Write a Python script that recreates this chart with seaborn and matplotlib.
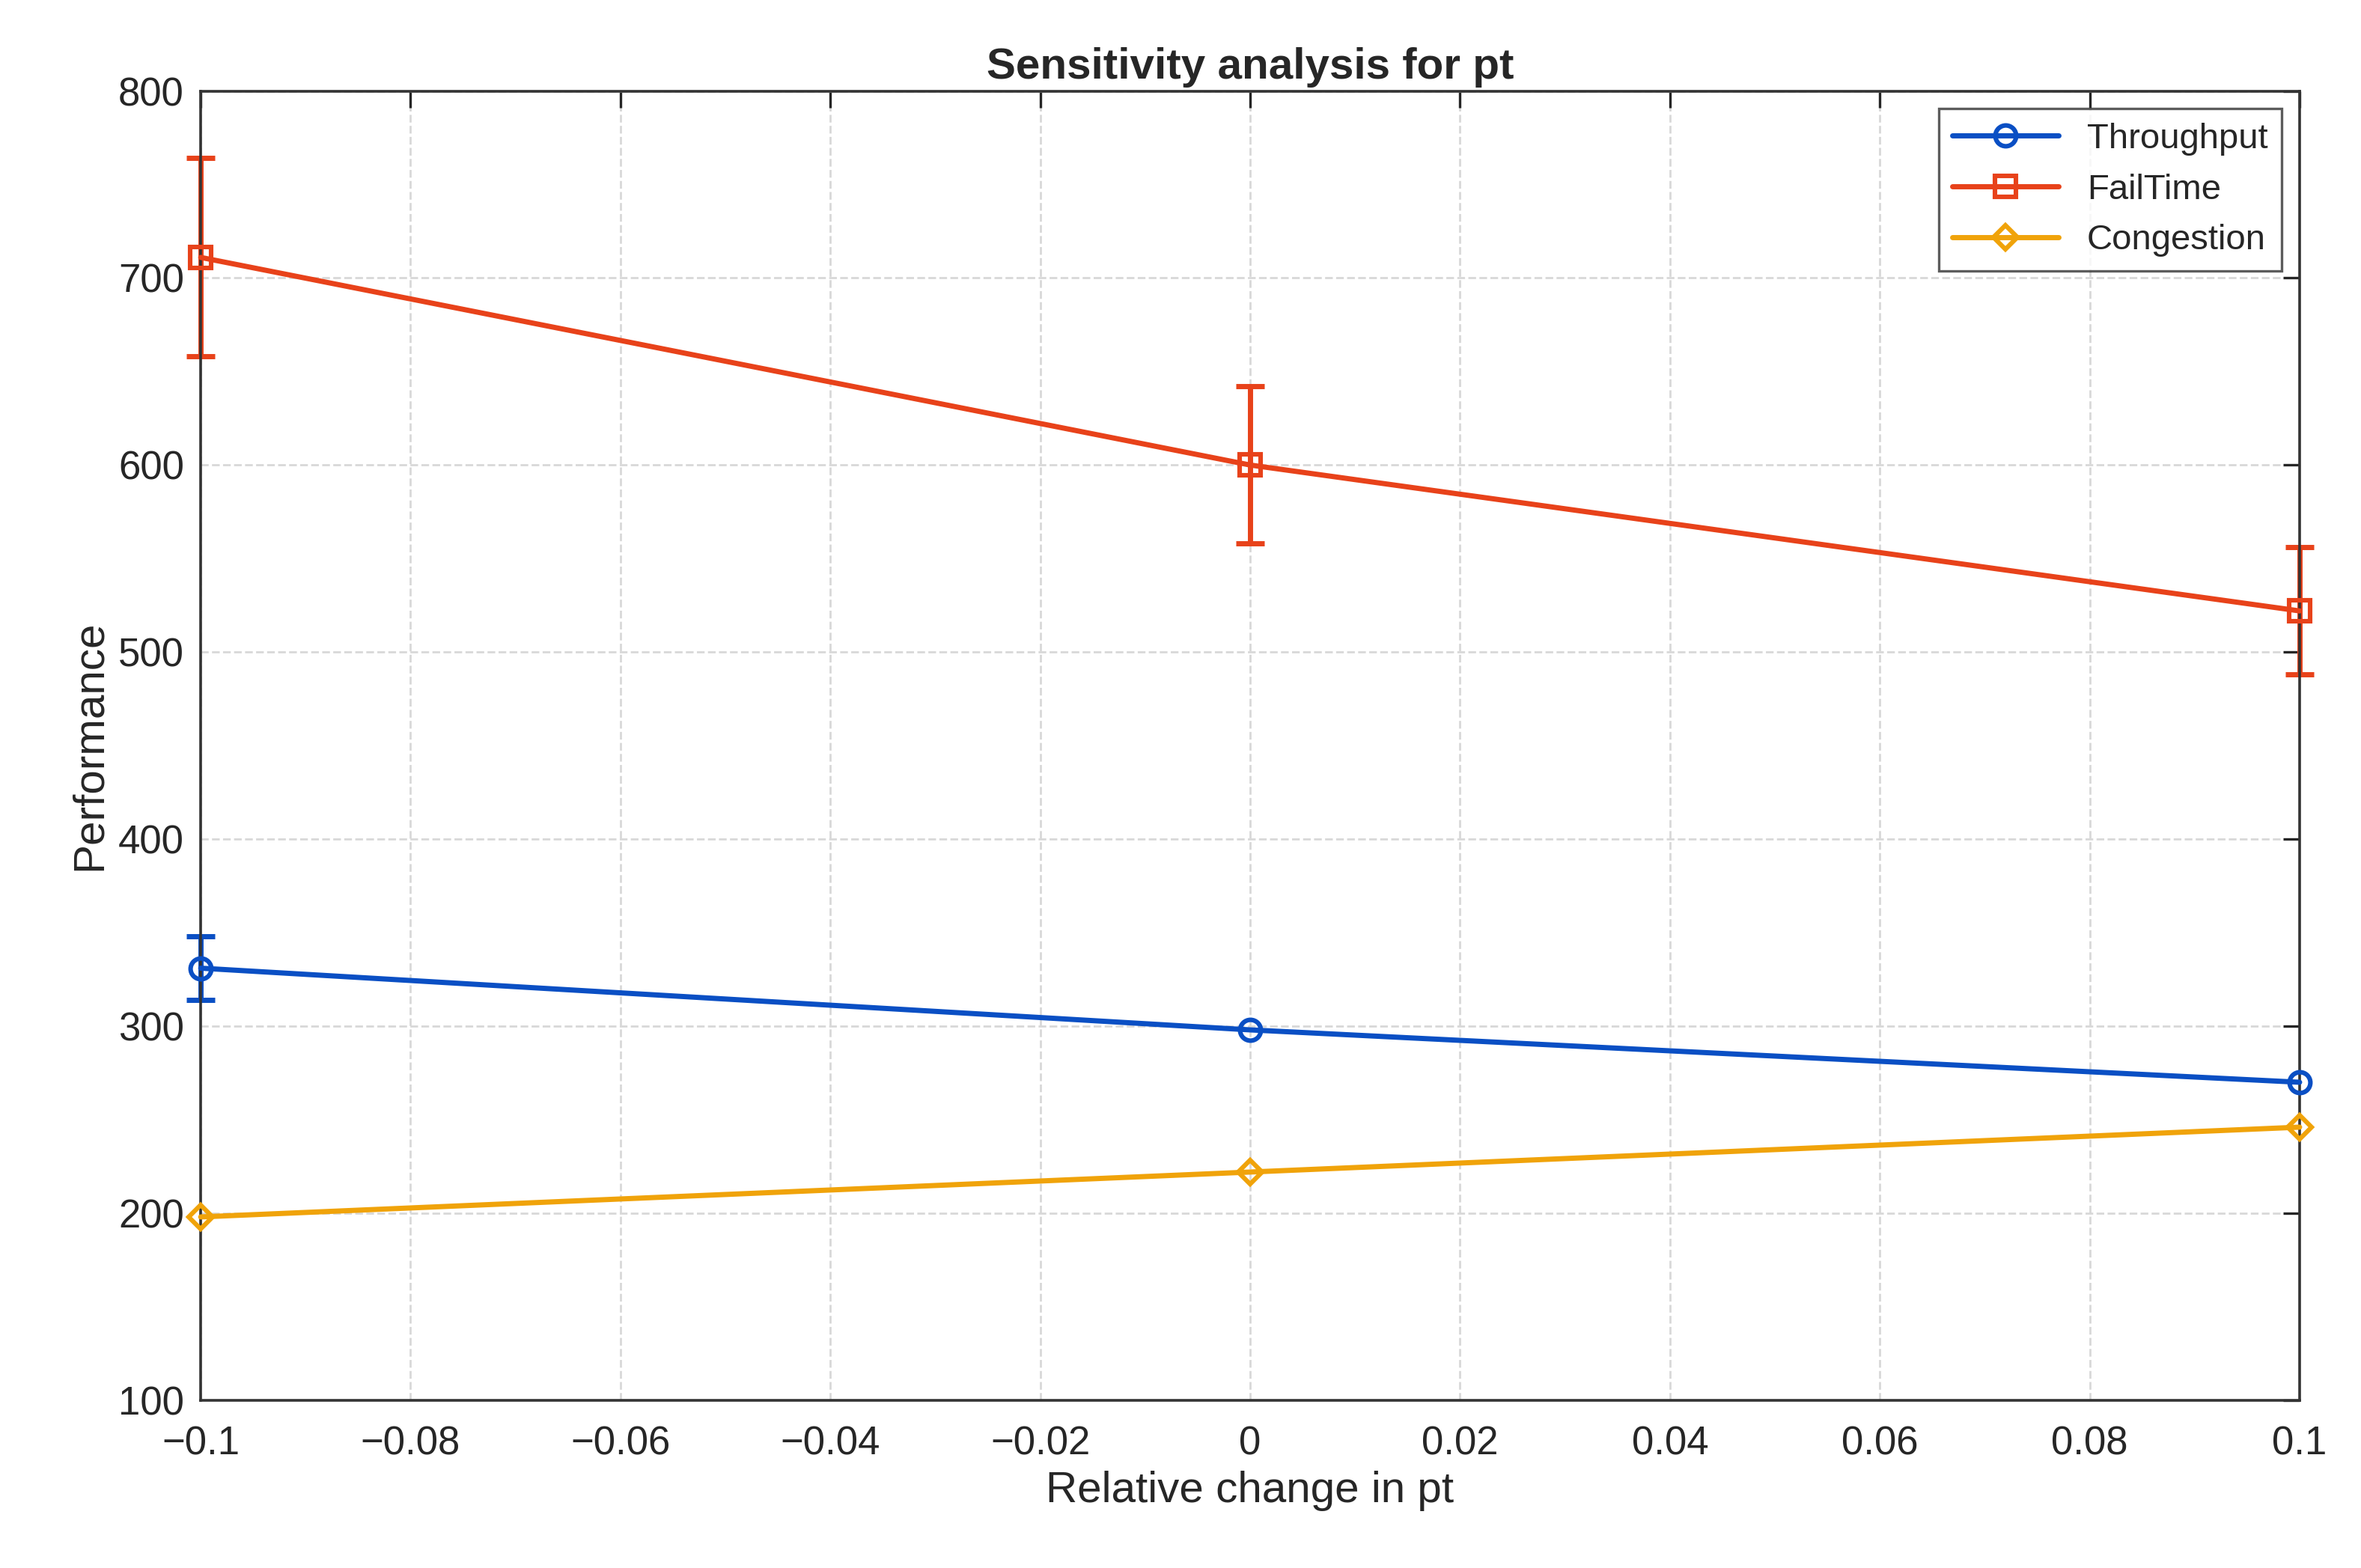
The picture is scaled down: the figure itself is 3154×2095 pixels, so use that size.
import matplotlib
matplotlib.use("Agg")
import matplotlib.pyplot as plt
import seaborn as sns

x = [-0.1, 0.0, 0.1]
throughput = [331, 298, 270]
throughput_err = [17, 0, 0]
failtime = [711, 600, 522]
failtime_err = [53, 42, 34]
congestion = [198, 222, 246]
congestion_err = [0, 0, 0]

sns.set_theme(style="white")
plt.rcParams['font.family'] = ['Liberation Sans', 'DejaVu Sans']

fig = plt.figure(figsize=(15.77, 10.475), dpi=200)
ax = fig.add_axes([0.085, 0.107, 0.889, 0.835])

series = [("Throughput", throughput, throughput_err, "#0A4FC4", "o"),
          ("FailTime", failtime, failtime_err, "#E8421A", "s"),
          ("Congestion", congestion, congestion_err, "#F0A30A", "D")]
for name, vals, errs, c, m in series:
    sns.lineplot(x=x, y=vals, color=c, marker=m, label=name, lw=2.5,
                 markersize=10 if m != "D" else 8, markerfacecolor="none",
                 markeredgecolor=c, markeredgewidth=2.2, ax=ax, clip_on=False, zorder=3)
    xs = [xi for xi, e in zip(x, errs) if e > 0]
    ys = [v for v, e in zip(vals, errs) if e > 0]
    es = [e for e in errs if e > 0]
    if xs:
        eb = ax.errorbar(xs, ys, yerr=es, fmt="none", ecolor=c, elinewidth=2.5,
                         capsize=7, capthick=2.5)
        for art in eb.lines[1] + eb.lines[2]:
            art.set_clip_on(False)

ax.set_xlim(-0.1, 0.1)
ax.set_ylim(100, 800)
ax.set_xticks([-0.1, -0.08, -0.06, -0.04, -0.02, 0, 0.02, 0.04, 0.06, 0.08, 0.1])
ax.set_xticklabels(["\u22120.1", "\u22120.08", "\u22120.06", "\u22120.04", "\u22120.02",
                    "0", "0.02", "0.04", "0.06", "0.08", "0.1"])
ax.set_yticks(range(100, 801, 100))
ax.grid(True, ls="--", color="#d8d8d8", lw=1)
ax.tick_params(direction="in", length=8, width=1.2, labelsize=19, top=True, right=True)
ax.tick_params(axis="x", pad=12)
ax.tick_params(axis="y", pad=8)
for s in ax.spines.values():
    s.set_color("#333333")
    s.set_linewidth(1.3)
ax.set_xlabel("Relative change in pt", fontsize=21)
ax.set_ylabel("Performance", fontsize=21)
ax.set_title("Sensitivity analysis for pt", fontsize=21, fontweight="bold")
leg = ax.legend(loc="upper right", fontsize=17, frameon=True, fancybox=False,
                edgecolor="#333333", handlelength=3)
leg.get_frame().set_linewidth(1.2)
fig.savefig("out.png", dpi=200, facecolor="white")
